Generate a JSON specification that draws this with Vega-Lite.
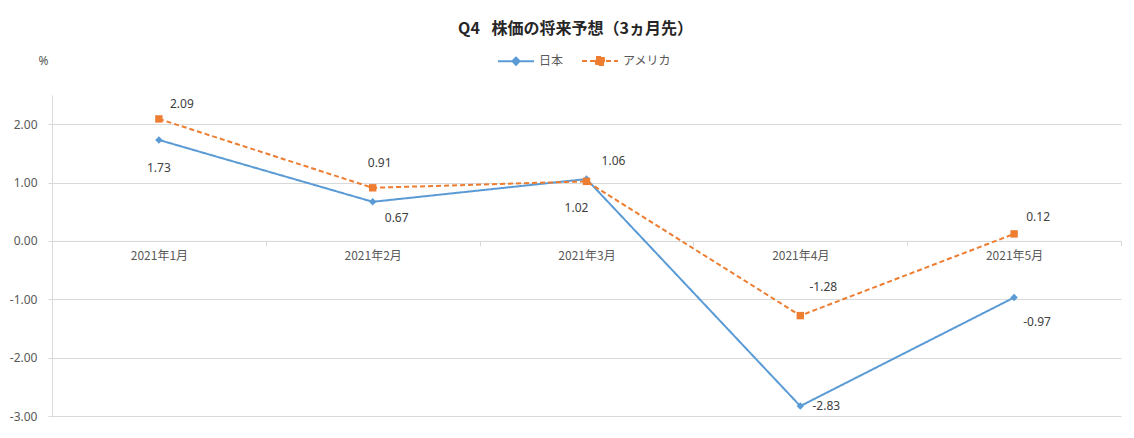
{
  "$schema": "https://vega.github.io/schema/vega-lite/v6.json",
  "width": 1069,
  "height": 321,
  "autosize": {"type": "none"},
  "padding": {"left": 52, "top": 95, "right": 13, "bottom": 22},
  "background": "white",
  "config": {
    "view": {"stroke": null},
    "font": "Noto Sans CJK JP",
    "locale": {
      "number": {"decimal": ".", "thousands": ",", "grouping": [3], "currency": ["$", ""], "minus": "-"}
    }
  },
  "title": {
    "text": "Q4 \u2002株価の将来予想（3ヵ月先）",
    "anchor": "middle",
    "frame": "group",
    "offset": 5,
    "dx": -11,
    "fontSize": 16,
    "fontWeight": "bold",
    "font": "Noto Sans CJK JP",
    "color": "#262626"
  },
  "data": {
    "values": [
      {"month": "2021年1月", "series": "日本", "value": 1.73},
      {"month": "2021年2月", "series": "日本", "value": 0.67},
      {"month": "2021年3月", "series": "日本", "value": 1.06},
      {"month": "2021年4月", "series": "日本", "value": -2.83},
      {"month": "2021年5月", "series": "日本", "value": -0.97},
      {"month": "2021年1月", "series": "アメリカ", "value": 2.09},
      {"month": "2021年2月", "series": "アメリカ", "value": 0.91},
      {"month": "2021年3月", "series": "アメリカ", "value": 1.02},
      {"month": "2021年4月", "series": "アメリカ", "value": -1.28},
      {"month": "2021年5月", "series": "アメリカ", "value": 0.12}
    ]
  },
  "encoding": {
    "x": {
      "field": "month",
      "type": "nominal",
      "scale": {
        "domain": ["2021年1月", "2021年2月", "2021年3月", "2021年4月", "2021年5月"],
        "type": "band",
        "paddingInner": 0,
        "paddingOuter": 0
      },
      "axis": {
        "title": null,
        "orient": "bottom",
        "offset": -175.1,
        "domainColor": "#d9d9d9",
        "domainWidth": 1,
        "tickColor": "#d9d9d9",
        "tickSize": 5,
        "tickBand": "extent",
        "labelPadding": 5,
        "labelColor": "#595959",
        "labelFontSize": 12,
        "labelAngle": 0,
        "labelFont": "Noto Sans CJK JP"
      }
    },
    "y": {
      "field": "value",
      "type": "quantitative",
      "scale": {"domain": [-3, 2.5], "nice": false, "zero": false},
      "axis": {
        "values": [-3, -2, -1, 0, 1, 2],
        "format": ".2f",
        "grid": true,
        "gridColor": "#d9d9d9",
        "domainColor": "#d9d9d9",
        "tickColor": "#d9d9d9",
        "tickSize": 4,
        "labelPadding": 11,
        "labelColor": "#595959",
        "labelFontSize": 12,
        "labelFont": "Noto Sans",
        "title": "%",
        "titleAngle": 0,
        "titleX": -9,
        "titleY": -35,
        "titleAlign": "center",
        "titleBaseline": "middle",
        "titleFontWeight": "normal",
        "titleFontSize": 12,
        "titleColor": "#595959",
        "titleFont": "Noto Sans"
      }
    }
  },
  "layer": [
    {
      "mark": {"type": "line", "strokeWidth": 2},
      "encoding": {
        "color": {
          "field": "series",
          "type": "nominal",
          "scale": {"domain": ["日本", "アメリカ"], "range": ["#5B9BD5", "#ED7D31"]},
          "legend": {
            "orient": "none",
            "legendX": 445,
            "legendY": -53,
            "direction": "horizontal",
            "title": null,
            "padding": 0,
            "labelFontSize": 12,
            "labelColor": "#595959",
            "labelFont": "Noto Sans CJK JP",
            "labelOffset": 4,
            "columnPadding": 14,
            "symbolSize": 1296,
            "symbolStrokeWidth": 2,
            "symbolOpacity": 1,
            "encode": {
              "symbols": {
                "update": {
                  "shape": {"signal": "datum.value === '日本' ? 'M-1,0H1M0,-0.2L0.2,0L0,0.2L-0.2,0Z' : 'M-1,0H1M-0.22,-0.22H0.22V0.22H-0.22Z'"},
                  "strokeDash": {"signal": "datum.value === '日本' ? [1,0] : [4,2]"},
                  "fill": {"signal": "datum.value === '日本' ? '#5B9BD5' : '#ED7D31'"},
                  "stroke": {"signal": "datum.value === '日本' ? '#5B9BD5' : '#ED7D31'"},
                  "strokeWidth": {"value": 2},
                  "size": {"value": 1296},
                  "opacity": {"value": 1}
                }
              }
            }
          }
        },
        "strokeDash": {
          "field": "series",
          "type": "nominal",
          "scale": {"domain": ["日本", "アメリカ"], "range": [[1, 0], [5, 3]]},
          "legend": null
        }
      }
    },
    {
      "transform": [{"filter": "datum.series === '日本'"}],
      "mark": {"type": "point", "filled": true, "opacity": 1, "size": 55, "shape": "diamond", "color": "#5B9BD5"}
    },
    {
      "transform": [{"filter": "datum.series === 'アメリカ'"}],
      "mark": {"type": "point", "filled": true, "opacity": 1, "size": 55, "shape": "square", "color": "#ED7D31"}
    },
    {
      "transform": [{"filter": "datum.series === '日本' && datum.month === '2021年1月'"}],
      "mark": {"type": "text", "dx": 0, "dy": 28, "fontSize": 12, "color": "#404040", "font": "Noto Sans", "baseline": "middle", "align": "center"},
      "encoding": {"text": {"field": "value", "type": "quantitative", "format": ".2f"}}
    },
    {
      "transform": [{"filter": "datum.series === '日本' && datum.month === '2021年2月'"}],
      "mark": {"type": "text", "dx": 24, "dy": 16, "fontSize": 12, "color": "#404040", "font": "Noto Sans", "baseline": "middle", "align": "center"},
      "encoding": {"text": {"field": "value", "type": "quantitative", "format": ".2f"}}
    },
    {
      "transform": [{"filter": "datum.series === '日本' && datum.month === '2021年3月'"}],
      "mark": {"type": "text", "dx": 27, "dy": -18, "fontSize": 12, "color": "#404040", "font": "Noto Sans", "baseline": "middle", "align": "center"},
      "encoding": {"text": {"field": "value", "type": "quantitative", "format": ".2f"}}
    },
    {
      "transform": [{"filter": "datum.series === '日本' && datum.month === '2021年4月'"}],
      "mark": {"type": "text", "dx": 26, "dy": 0, "fontSize": 12, "color": "#404040", "font": "Noto Sans", "baseline": "middle", "align": "center"},
      "encoding": {"text": {"field": "value", "type": "quantitative", "format": ".2f"}}
    },
    {
      "transform": [{"filter": "datum.series === '日本' && datum.month === '2021年5月'"}],
      "mark": {"type": "text", "dx": 23, "dy": 24, "fontSize": 12, "color": "#404040", "font": "Noto Sans", "baseline": "middle", "align": "center"},
      "encoding": {"text": {"field": "value", "type": "quantitative", "format": ".2f"}}
    },
    {
      "transform": [{"filter": "datum.series === 'アメリカ' && datum.month === '2021年1月'"}],
      "mark": {"type": "text", "dx": 23, "dy": -15, "fontSize": 12, "color": "#404040", "font": "Noto Sans", "baseline": "middle", "align": "center"},
      "encoding": {"text": {"field": "value", "type": "quantitative", "format": ".2f"}}
    },
    {
      "transform": [{"filter": "datum.series === 'アメリカ' && datum.month === '2021年2月'"}],
      "mark": {"type": "text", "dx": 7, "dy": -25, "fontSize": 12, "color": "#404040", "font": "Noto Sans", "baseline": "middle", "align": "center"},
      "encoding": {"text": {"field": "value", "type": "quantitative", "format": ".2f"}}
    },
    {
      "transform": [{"filter": "datum.series === 'アメリカ' && datum.month === '2021年3月'"}],
      "mark": {"type": "text", "dx": -10, "dy": 27, "fontSize": 12, "color": "#404040", "font": "Noto Sans", "baseline": "middle", "align": "center"},
      "encoding": {"text": {"field": "value", "type": "quantitative", "format": ".2f"}}
    },
    {
      "transform": [{"filter": "datum.series === 'アメリカ' && datum.month === '2021年4月'"}],
      "mark": {"type": "text", "dx": 23, "dy": -29, "fontSize": 12, "color": "#404040", "font": "Noto Sans", "baseline": "middle", "align": "center"},
      "encoding": {"text": {"field": "value", "type": "quantitative", "format": ".2f"}}
    },
    {
      "transform": [{"filter": "datum.series === 'アメリカ' && datum.month === '2021年5月'"}],
      "mark": {"type": "text", "dx": 24, "dy": -17, "fontSize": 12, "color": "#404040", "font": "Noto Sans", "baseline": "middle", "align": "center"},
      "encoding": {"text": {"field": "value", "type": "quantitative", "format": ".2f"}}
    }
  ]
}
